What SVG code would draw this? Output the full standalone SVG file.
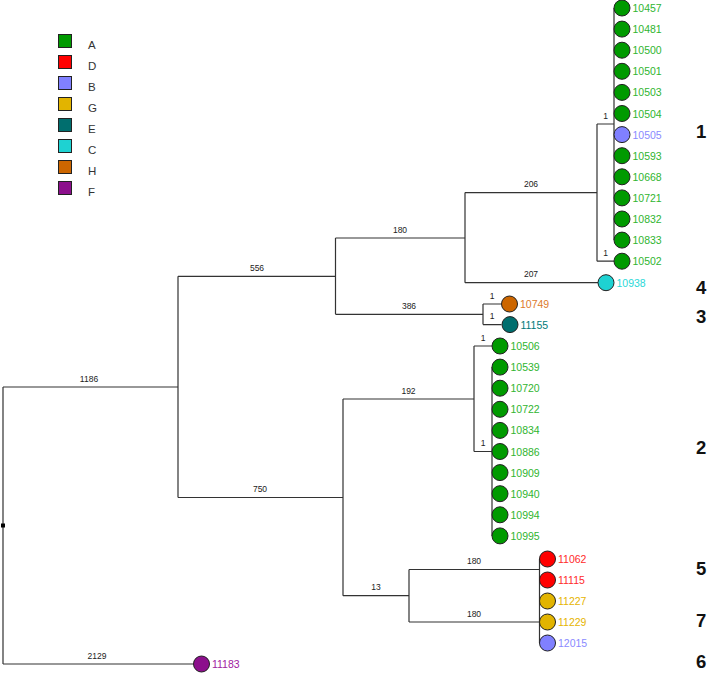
<svg xmlns="http://www.w3.org/2000/svg" width="708" height="674" viewBox="0 0 708 674">
<style>
text{font-family:"Liberation Sans",Arial,sans-serif}
.e{fill:none;stroke:#333;stroke-width:1.2}
.bl{font-size:8.5px;fill:#222;text-anchor:middle}
.t{font-size:10.5px}
.c{stroke:#222;stroke-width:1}
.lg{font-size:11.5px;fill:#333}
.big{font-size:18.5px;font-weight:bold;fill:#111}
.fA{fill:#009a00}.tA{fill:#2fb52f}
.fD{fill:#ff0000}.tD{fill:#ff2a2a}
.fB{fill:#8080ff}.tB{fill:#8a8aff}
.fG{fill:#e2b400}.tG{fill:#e6b400}
.fE{fill:#006e6e}.tE{fill:#007a7a}
.fC{fill:#1ed2d2}.tC{fill:#2ad8d8}
.fH{fill:#cc6600}.tH{fill:#dd7a2a}
.fF{fill:#8c0f8c}.tF{fill:#a020a0}
</style>
<g id="legend">
<rect class="c fA" x="58.5" y="34.5" width="13" height="13"/><text class="lg" x="88" y="49">A</text>
<rect class="c fD" x="58.5" y="55.5" width="13" height="13"/><text class="lg" x="88" y="70">D</text>
<rect class="c fB" x="58.5" y="76.5" width="13" height="13"/><text class="lg" x="88" y="91">B</text>
<rect class="c fG" x="58.5" y="97.5" width="13" height="13"/><text class="lg" x="88" y="112">G</text>
<rect class="c fE" x="58.5" y="118.5" width="13" height="13"/><text class="lg" x="88" y="133">E</text>
<rect class="c fC" x="58.5" y="139.5" width="13" height="13"/><text class="lg" x="88" y="154">C</text>
<rect class="c fH" x="58.5" y="160.5" width="13" height="13"/><text class="lg" x="88" y="175">H</text>
<rect class="c fF" x="58.5" y="181.5" width="13" height="13"/><text class="lg" x="88" y="196">F</text>
</g>
<g id="connectors">
<path class="e" d="M3,387V664M3,387H178M3,664H193.5"/>
<path class="e" d="M178,276.3V497.5M178,276.3H335.5M178,497.5H343"/>
<path class="e" d="M335.5,238V314.3M335.5,238H465M335.5,314.3H483"/>
<path class="e" d="M465,192.6V282.7M465,192.6H597M465,282.7H598"/>
<path class="e" d="M597,124V261.2M597,124H614M597,261.2H614M614,8V240.1"/>
<path class="e" d="M483,304V324.6M483,304H501M483,324.6H501.5"/>
<path class="e" d="M343,399V595.7M343,399H474M343,595.7H409"/>
<path class="e" d="M474,346V451.5M474,346H492M474,451.5H492M492,367.1V535.9"/>
<path class="e" d="M409,569.5V622M409,569.5H539.5M409,622H539.5M539.5,559V643"/>
<rect x="1" y="523.5" width="4" height="4" fill="#000"/>
<text class="bl" x="89" y="381.5">1186</text>
<text class="bl" x="97" y="658.5">2129</text>
<text class="bl" x="257" y="270.8">556</text>
<text class="bl" x="260" y="492">750</text>
<text class="bl" x="400" y="232.5">180</text>
<text class="bl" x="409" y="308.8">386</text>
<text class="bl" x="531" y="187.1">206</text>
<text class="bl" x="531" y="277.2">207</text>
<text class="bl" x="605.5" y="118.5">1</text>
<text class="bl" x="605.5" y="255.7">1</text>
<text class="bl" x="492" y="298.5">1</text>
<text class="bl" x="492" y="319.1">1</text>
<text class="bl" x="408.5" y="393.5">192</text>
<text class="bl" x="483" y="340.5">1</text>
<text class="bl" x="483" y="446">1</text>
<text class="bl" x="376" y="590.2">13</text>
<text class="bl" x="474" y="564">180</text>
<text class="bl" x="474" y="616.5">180</text>
</g>
<g id="cluster1">
<circle class="c fA" cx="622" cy="8" r="8"/><text class="t tA" x="632.5" y="12">10457</text>
<circle class="c fA" cx="622" cy="29.1" r="8"/><text class="t tA" x="632.5" y="33.1">10481</text>
<circle class="c fA" cx="622" cy="50.2" r="8"/><text class="t tA" x="632.5" y="54.2">10500</text>
<circle class="c fA" cx="622" cy="71.3" r="8"/><text class="t tA" x="632.5" y="75.3">10501</text>
<circle class="c fA" cx="622" cy="92.4" r="8"/><text class="t tA" x="632.5" y="96.4">10503</text>
<circle class="c fA" cx="622" cy="113.5" r="8"/><text class="t tA" x="632.5" y="117.5">10504</text>
<circle class="c fB" cx="622" cy="134.6" r="8"/><text class="t tB" x="632.5" y="138.6">10505</text>
<circle class="c fA" cx="622" cy="155.7" r="8"/><text class="t tA" x="632.5" y="159.7">10593</text>
<circle class="c fA" cx="622" cy="176.8" r="8"/><text class="t tA" x="632.5" y="180.8">10668</text>
<circle class="c fA" cx="622" cy="197.9" r="8"/><text class="t tA" x="632.5" y="201.9">10721</text>
<circle class="c fA" cx="622" cy="219" r="8"/><text class="t tA" x="632.5" y="223">10832</text>
<circle class="c fA" cx="622" cy="240.1" r="8"/><text class="t tA" x="632.5" y="244.1">10833</text>
<circle class="c fA" cx="622" cy="261.2" r="8"/><text class="t tA" x="632.5" y="265.2">10502</text>
</g>
<g id="tip10938"><circle class="c fC" cx="606" cy="282.7" r="8"/><text class="t tC" x="616.5" y="286.7">10938</text></g>
<g id="tip10749"><circle class="c fH" cx="509.5" cy="304" r="8"/><text class="t tH" x="520" y="308">10749</text></g>
<g id="tip11155"><circle class="c fE" cx="510" cy="324.6" r="8"/><text class="t tE" x="520.5" y="328.6">11155</text></g>
<g id="cluster2">
<circle class="c fA" cx="500" cy="346" r="8"/><text class="t tA" x="510.5" y="350">10506</text>
<circle class="c fA" cx="500" cy="367.1" r="8"/><text class="t tA" x="510.5" y="371.1">10539</text>
<circle class="c fA" cx="500" cy="388.2" r="8"/><text class="t tA" x="510.5" y="392.2">10720</text>
<circle class="c fA" cx="500" cy="409.3" r="8"/><text class="t tA" x="510.5" y="413.3">10722</text>
<circle class="c fA" cx="500" cy="430.4" r="8"/><text class="t tA" x="510.5" y="434.4">10834</text>
<circle class="c fA" cx="500" cy="451.5" r="8"/><text class="t tA" x="510.5" y="455.5">10886</text>
<circle class="c fA" cx="500" cy="472.6" r="8"/><text class="t tA" x="510.5" y="476.6">10909</text>
<circle class="c fA" cx="500" cy="493.7" r="8"/><text class="t tA" x="510.5" y="497.7">10940</text>
<circle class="c fA" cx="500" cy="514.8" r="8"/><text class="t tA" x="510.5" y="518.8">10994</text>
<circle class="c fA" cx="500" cy="535.9" r="8"/><text class="t tA" x="510.5" y="539.9">10995</text>
</g>
<g id="cluster3">
<circle class="c fD" cx="547.5" cy="559" r="8"/><text class="t tD" x="558" y="563">11062</text>
<circle class="c fD" cx="547.5" cy="580" r="8"/><text class="t tD" x="558" y="584">11115</text>
<circle class="c fG" cx="547.5" cy="601" r="8"/><text class="t tG" x="558" y="605">11227</text>
<circle class="c fG" cx="547.5" cy="622" r="8"/><text class="t tG" x="558" y="626">11229</text>
<circle class="c fB" cx="547.5" cy="643" r="8"/><text class="t tB" x="558" y="647">12015</text>
</g>
<g id="tip11183"><circle class="c fF" cx="201.5" cy="664" r="8"/><text class="t tF" x="212" y="668">11183</text></g>
<g id="groups">
<text class="big" x="696" y="138.3">1</text>
<text class="big" x="696" y="293.5">4</text>
<text class="big" x="696" y="323">3</text>
<text class="big" x="696" y="453.5">2</text>
<text class="big" x="696" y="575">5</text>
<text class="big" x="696" y="626.7">7</text>
<text class="big" x="696" y="668.3">6</text>
</g>
</svg>
